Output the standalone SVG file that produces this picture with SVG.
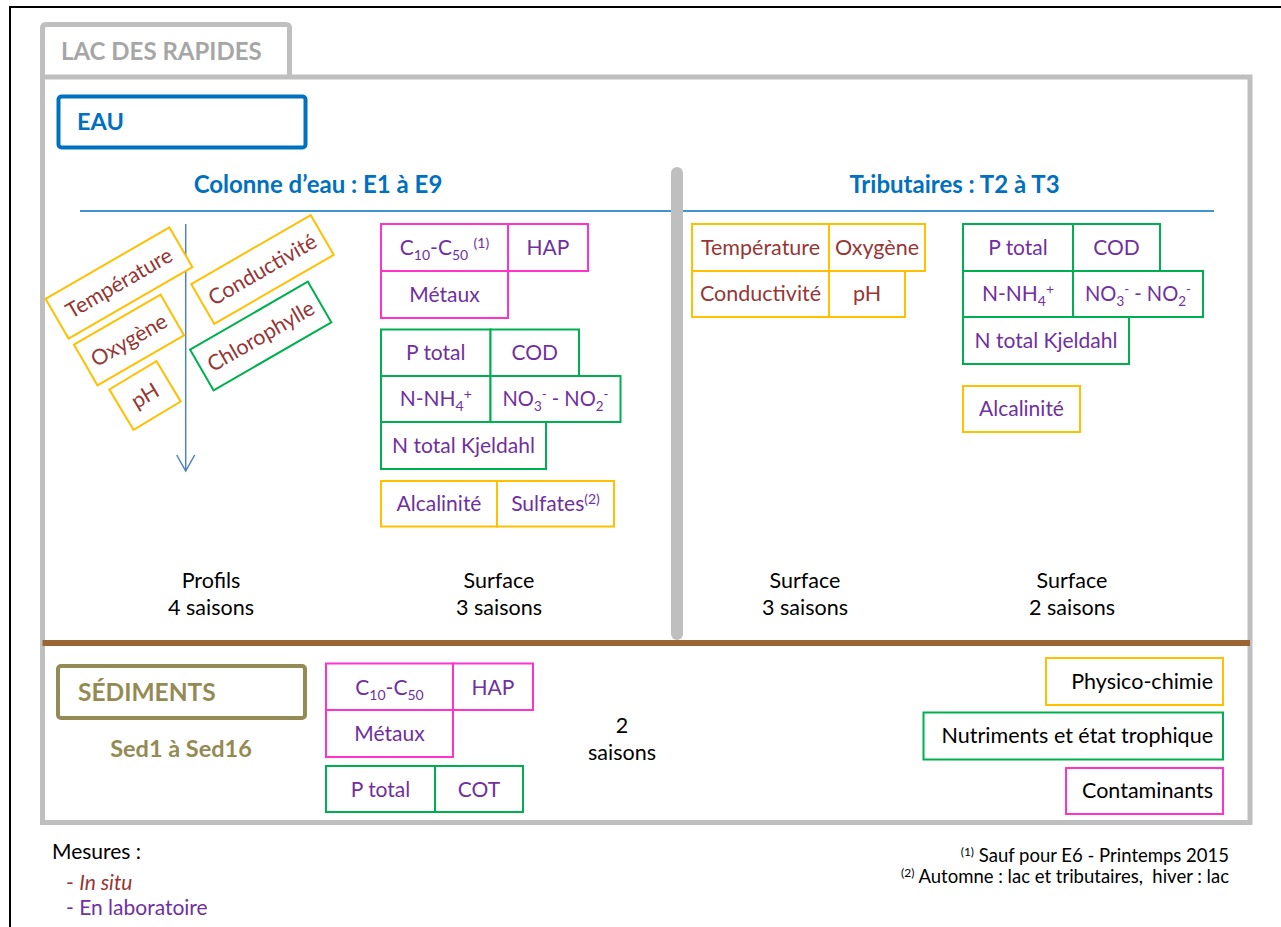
<svg xmlns="http://www.w3.org/2000/svg" width="1281" height="927" viewBox="0 0 1281 927">
<style>
text{font-family:Lato,"Open Sans","Liberation Sans",sans-serif}
.pk{fill:#fff;stroke:#ff33cc;stroke-width:2}
.gr{fill:#fff;stroke:#00b050;stroke-width:2}
.yl{fill:#fff;stroke:#ffc000;stroke-width:2}
.lab{font-size:21px;fill:#7030a0;text-anchor:middle}
.ins{font-size:21.5px;fill:#953735;text-anchor:middle}
.blk{font-size:21.5px;fill:#000;text-anchor:middle}
.leg{font-size:21.5px;fill:#000;text-anchor:end}
.ttl{font-size:24px;font-weight:bold;fill:#0070c0;text-anchor:middle}
.sm{font-size:14px}
.bot{font-size:21px}
.fn{font-size:18.5px;fill:#000;text-anchor:end}
</style>
<defs>
<marker id="vee" viewBox="0 0 20 20" refX="18" refY="10" markerWidth="20" markerHeight="20" markerUnits="userSpaceOnUse" orient="auto">
<polyline points="2,1 18,10 2,19" fill="none" stroke="#4f81bd" stroke-width="1.5"/>
</marker>
</defs>
<rect width="1281" height="927" fill="#fff"/>
<g id="frame">
<path d="M10,927 V7 H1281" fill="none" stroke="#000" stroke-width="2"/>
<path d="M42.5,77 V28 Q42.5,24.5 46,24.5 H286 Q289.5,24.5 289.5,28 V77" fill="none" stroke="#bfbfbf" stroke-width="5"/>
<rect x="42.5" y="77" width="1207.5" height="745.5" fill="none" stroke="#bfbfbf" stroke-width="5"/>
<text x="61" y="60" style="font-size:24px;font-weight:bold;fill:#a6a6a6">LAC DES RAPIDES</text>
<line x1="80" y1="211" x2="1214" y2="211" stroke="#0070c0" stroke-width="1.5"/>
<line x1="677" y1="173" x2="677" y2="634" stroke="#bfbfbf" stroke-width="12" stroke-linecap="round"/>
<line x1="42.5" y1="643" x2="1250" y2="643" stroke="#996633" stroke-width="6"/>
</g>
<g id="eau">
<rect x="58.5" y="96.5" width="247" height="51" rx="3" fill="none" stroke="#0070c0" stroke-width="4"/>
<text x="77" y="130" style="font-size:23.5px;font-weight:bold;fill:#0070c0">EAU</text>
</g>
<text class="ttl" x="318" y="193">Colonne d’eau : E1 à E9</text>
<text class="ttl" x="954.5" y="193">Tributaires : T2 à T3</text>
<g id="connectors">
<line x1="185.7" y1="224" x2="185.7" y2="471" stroke="#4f81bd" stroke-width="1.5" marker-end="url(#vee)"/>
</g>
<g id="profil-temperature" transform="translate(119,283) rotate(-30)">
<rect class="yl" x="-71.5" y="-23" width="143" height="46"/>
<text class="ins" x="0" y="7.5">Température</text>
</g>
<g id="profil-oxygene" transform="translate(129,340) rotate(-30)">
<rect class="yl" x="-50" y="-23.5" width="100" height="47"/>
<text class="ins" x="0" y="7.5">Oxygène</text>
</g>
<g id="profil-ph" transform="translate(145,395.5) rotate(-31)">
<rect class="yl" x="-27.5" y="-23.5" width="55" height="47"/>
<text class="ins" x="0" y="7.5">pH</text>
</g>
<g id="profil-conductivite" transform="translate(262.5,269.5) rotate(-30)">
<rect class="yl" x="-69" y="-23" width="138" height="46"/>
<text class="ins" x="0" y="7.5">Conductivité</text>
</g>
<g id="profil-chlorophylle" transform="translate(260.7,336) rotate(-30)">
<rect class="gr" x="-68" y="-23.5" width="136" height="47"/>
<text class="ins" x="0" y="7.5">Chlorophylle</text>
</g>
<g id="e-c10c50"><rect class="pk" x="381" y="224" width="127" height="47"/>
<text class="lab" x="444.5" y="255">C<tspan class="sm" dy="5">10</tspan><tspan dy="-5">-C</tspan><tspan class="sm" dy="5">50</tspan><tspan dy="-5"> </tspan><tspan class="sm" dy="-7">(1)</tspan></text></g>
<g id="e-hap"><rect class="pk" x="508" y="224" width="80" height="47"/><text class="lab" x="548" y="255">HAP</text></g>
<g id="e-metaux"><rect class="pk" x="381" y="271" width="127" height="47"/><text class="lab" x="444.5" y="302">Métaux</text></g>
<g id="e-ptotal"><rect class="gr" x="381" y="329.5" width="109.5" height="46.5"/><text class="lab" x="435.75" y="360">P total</text></g>
<g id="e-cod"><rect class="gr" x="490.5" y="329.5" width="88.5" height="46.5"/><text class="lab" x="534.75" y="360">COD</text></g>
<g id="e-nnh4"><rect class="gr" x="381" y="376" width="109.5" height="46"/>
<text class="lab" x="435.75" y="406">N-NH<tspan class="sm" dy="5">4</tspan><tspan class="sm" dy="-12">+</tspan></text></g>
<g id="e-no3no2"><rect class="gr" x="490.5" y="376" width="130" height="46"/>
<text class="lab" x="555.5" y="406" textLength="106" lengthAdjust="spacingAndGlyphs">NO<tspan class="sm" dy="5">3</tspan><tspan class="sm" dy="-12">-</tspan><tspan dy="7"> - NO</tspan><tspan class="sm" dy="5">2</tspan><tspan class="sm" dy="-12">-</tspan></text></g>
<g id="e-ntk"><rect class="gr" x="381" y="422" width="165" height="47"/><text class="lab" x="463.5" y="453">N total Kjeldahl</text></g>
<g id="e-alcalinite"><rect class="yl" x="381" y="481" width="116" height="45.5"/><text class="lab" x="439" y="511">Alcalinité</text></g>
<g id="e-sulfates"><rect class="yl" x="497" y="481" width="117" height="45.5"/><text class="lab" x="555.5" y="511">Sulfates<tspan class="sm" dy="-7">(2)</tspan></text></g>
<g id="t-temperature"><rect class="yl" x="692" y="224" width="137" height="47"/><text class="ins" x="760.5" y="255">Température</text></g>
<g id="t-oxygene"><rect class="yl" x="829" y="224" width="96" height="47"/><text class="ins" x="877" y="255">Oxygène</text></g>
<g id="t-conductivite"><rect class="yl" x="692" y="271" width="137" height="46"/><text class="ins" x="760.5" y="301">Conductivité</text></g>
<g id="t-ph"><rect class="yl" x="829" y="271" width="76" height="46"/><text class="ins" x="867" y="301">pH</text></g>
<g id="t-ptotal"><rect class="gr" x="963" y="224" width="110" height="47"/><text class="lab" x="1018" y="255">P total</text></g>
<g id="t-cod"><rect class="gr" x="1073" y="224" width="87" height="47"/><text class="lab" x="1116.5" y="255">COD</text></g>
<g id="t-nnh4"><rect class="gr" x="963" y="271" width="110" height="46"/>
<text class="lab" x="1018" y="301">N-NH<tspan class="sm" dy="5">4</tspan><tspan class="sm" dy="-12">+</tspan></text></g>
<g id="t-no3no2"><rect class="gr" x="1073" y="271" width="130" height="46"/>
<text class="lab" x="1138" y="301" textLength="106" lengthAdjust="spacingAndGlyphs">NO<tspan class="sm" dy="5">3</tspan><tspan class="sm" dy="-12">-</tspan><tspan dy="7"> - NO</tspan><tspan class="sm" dy="5">2</tspan><tspan class="sm" dy="-12">-</tspan></text></g>
<g id="t-ntk"><rect class="gr" x="963" y="317" width="166" height="47"/><text class="lab" x="1046" y="348">N total Kjeldahl</text></g>
<g id="t-alcalinite"><rect class="yl" x="963" y="386" width="117" height="46"/><text class="lab" x="1021.5" y="416">Alcalinité</text></g>
<g id="freq-labels">
<text class="blk" x="211" y="588">Profils</text><text class="blk" x="211" y="615">4 saisons</text>
<text class="blk" x="499" y="588">Surface</text><text class="blk" x="499" y="615">3 saisons</text>
<text class="blk" x="805" y="588">Surface</text><text class="blk" x="805" y="615">3 saisons</text>
<text class="blk" x="1072" y="588">Surface</text><text class="blk" x="1072" y="615">2 saisons</text>
</g>
<g id="sediments">
<rect x="58" y="666" width="247" height="52" rx="3" fill="none" stroke="#948a54" stroke-width="4"/>
<text x="78" y="701" style="font-size:24.5px;font-weight:bold;fill:#948a54">SÉDIMENTS</text>
<text x="181" y="757" style="font-size:23.5px;font-weight:bold;fill:#948a54;text-anchor:middle">Sed1 à Sed16</text>
</g>
<g id="s-c10c50"><rect class="pk" x="326" y="663.5" width="127" height="46.5"/>
<text class="lab" x="389.5" y="694.5">C<tspan class="sm" dy="5">10</tspan><tspan dy="-5">-C</tspan><tspan class="sm" dy="5">50</tspan></text></g>
<g id="s-hap"><rect class="pk" x="453" y="663.5" width="80" height="46.5"/><text class="lab" x="493" y="694.5">HAP</text></g>
<g id="s-metaux"><rect class="pk" x="326" y="710" width="127" height="47"/><text class="lab" x="389.5" y="741">Métaux</text></g>
<g id="s-ptotal"><rect class="gr" x="326" y="766" width="109" height="46"/><text class="lab" x="380.5" y="796.5">P total</text></g>
<g id="s-cot"><rect class="gr" x="435" y="766" width="88" height="46"/><text class="lab" x="479" y="796.5">COT</text></g>
<g id="s-freq"><text class="blk" x="622" y="733">2</text><text class="blk" x="622" y="760">saisons</text></g>
<g id="legend-physico"><rect class="yl" x="1046" y="658" width="177" height="47"/><text class="leg" x="1213" y="689">Physico-chimie</text></g>
<g id="legend-nutriments"><rect class="gr" x="923.5" y="712.5" width="299.5" height="47"/><text class="leg" x="1213" y="743">Nutriments et état trophique</text></g>
<g id="legend-contaminants"><rect class="pk" x="1066" y="768" width="157" height="46"/><text class="leg" x="1213" y="798">Contaminants</text></g>
<g id="mesures">
<text class="bot" x="52" y="859" fill="#000">Mesures :</text>
<text class="bot" x="66" y="890" fill="#953735">- <tspan font-style="italic">In situ</tspan></text>
<text class="bot" x="66" y="915" fill="#7030a0">- En laboratoire</text>
</g>
<g id="notes">
<text class="fn" x="1229" y="862"><tspan font-size="12" dy="-6">(1)</tspan><tspan dy="6"> Sauf pour E6 - Printemps 2015</tspan></text>
<text class="fn" x="1229" y="883"><tspan font-size="12" dy="-6">(2)</tspan><tspan dy="6"> Automne : lac et tributaires,&#160; hiver : lac</tspan></text>
</g>
</svg>
